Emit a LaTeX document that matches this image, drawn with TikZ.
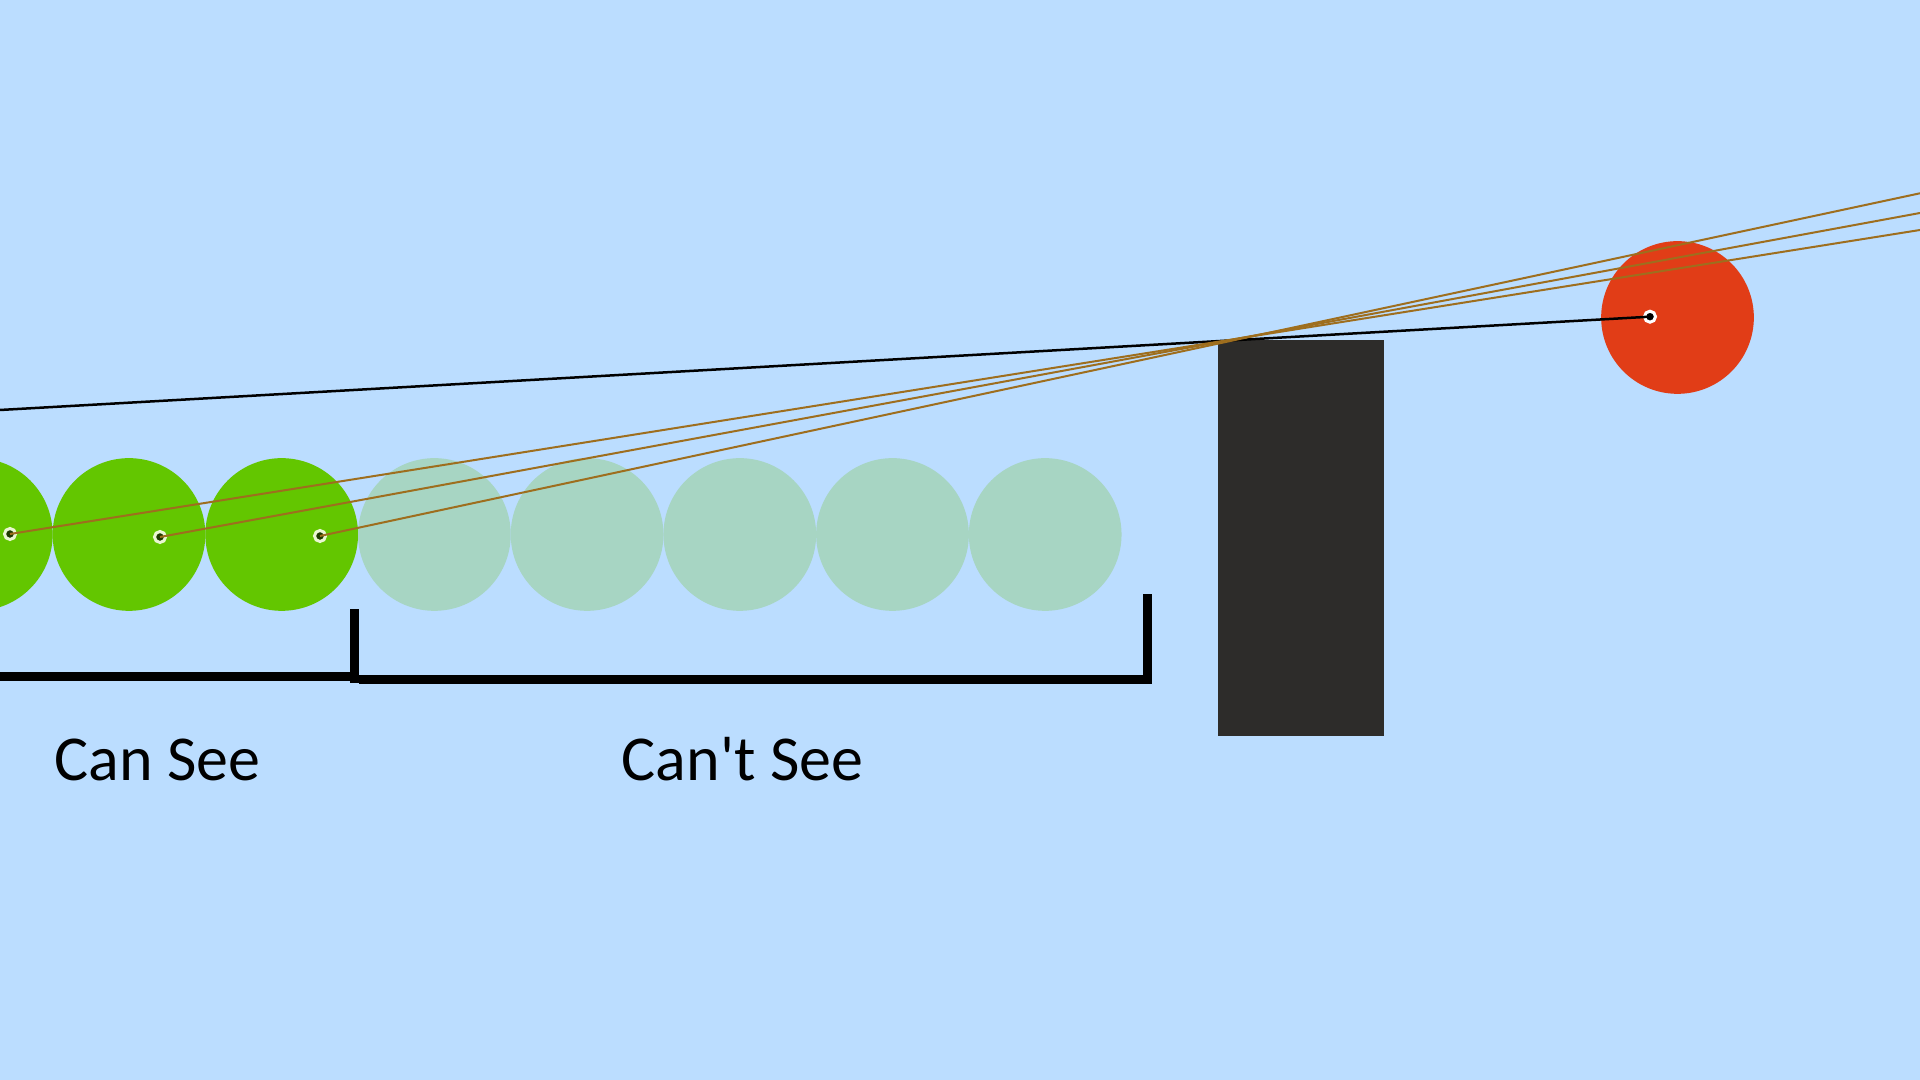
\documentclass[tikz,border=0pt]{standalone}
\usepackage{fontspec}
\setmainfont{Carlito}
\usetikzlibrary{shapes,arrows,positioning,calc}

\definecolor{skyblue}{HTML}{BBDDFF}
\definecolor{seegreen}{HTML}{63C600}
\definecolor{fadegreen}{HTML}{A7D5C3}
\definecolor{ballred}{HTML}{E13D17}
\definecolor{wallgray}{HTML}{2D2C2A}
\definecolor{rayorange}{HTML}{9E6E1E}
\definecolor{dotgreen}{HTML}{1E3A00}
\definecolor{ringgreen}{HTML}{EAF6D2}

\begin{document}
\begin{tikzpicture}[
    x=0.01cm, y=-0.01cm,
    ball/.style={circle, inner sep=0pt, minimum size=1.526cm, fill=seegreen},
    fadeball/.style={ball, fill=fadegreen},
    redball/.style={ball, fill=ballred},
    eye/.style={circle, inner sep=0pt, minimum size=0.11cm, fill=dotgreen, draw=ringgreen, line width=0.03cm},
    redeye/.style={eye, fill=black, draw=white},
    wall/.style={rectangle, inner sep=0pt, minimum width=1.65cm, minimum height=3.96cm, fill=wallgray},
    ray/.style={draw=rayorange, line width=0.02cm},
    sight/.style={draw=black, line width=0.025cm},
    bracket/.style={draw=black, line width=0.09cm},
    label/.style={font=\fontsize{18.2}{22}\selectfont, anchor=base, inner sep=0pt},
]

% Background
\fill[skyblue] (0,0) rectangle (1920,1080);
\useasboundingbox (0,0) rectangle (1920,1080);
\clip (0,0) rectangle (1920,1080);

% Balls
\node[ball] (g0) at (-23.7,534.5) {};
\node[ball] (g1) at (129,534.5) {};
\node[ball] (g2) at (281.7,534.5) {};
\foreach \i/\x in {3/434.4, 4/587.1, 5/739.8, 6/892.5, 7/1045.2}
  \node[fadeball] (g\i) at (\x,534.5) {};

\node[redball] (red) at (1677.5,317.5) {};

% Wall
\node[wall] (wall) at (1301,538) {};

% Eyes
\node[eye] (d1) at (10,534) {};
\node[eye] (d2) at (160,537) {};
\node[eye] (d3) at (320,536) {};
\node[redeye] (rd) at (1650,316.7) {};

% Ray ends
\coordinate (e1) at (1920,193.3);
\coordinate (e2) at (1920,213);
\coordinate (e3) at (1920,230);
\coordinate (sightend) at (0,410);

% Rays
\draw[sight] (rd.center) -- (sightend);
\draw[ray] (d1.center) -- (e3);
\draw[ray] (d2.center) -- (e2);
\draw[ray] (d3.center) -- (e1);

% Brackets
\draw[bracket] (-10,677) -- (354.5,677);
\draw[bracket] (354.5,683) -- (354.5,609);
\draw[bracket] (359,679.5) -- (1147.8,679.5) -- (1147.8,594);

% Labels
\node[label] (cansee) at (157.5,780.7) {Can See};
\node[label] (cantsee) at (742.5,780.7) {Can\textquotesingle t See};

\end{tikzpicture}
\end{document}
